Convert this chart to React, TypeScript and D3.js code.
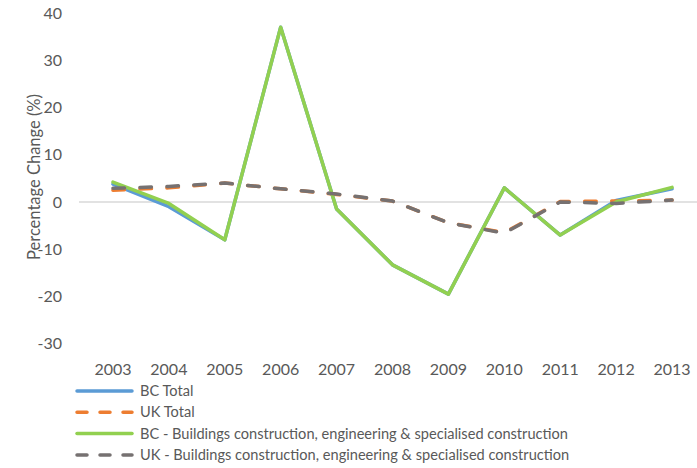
import React from "react";
import * as d3 from "d3";

const years = ["2003", "2004", "2005", "2006", "2007", "2008", "2009", "2010", "2011", "2012", "2013"];
const bcTotal = [3.8, -1.0, -8.0, 37.0, -1.5, -13.3, -19.5, 3.0, -7.0, 0.3, 2.8];
const ukTotal = [2.5, 3.0, 4.0, 2.8, 1.6, 0.2, -4.4, -6.5, 0.1, 0.2, 0.4];
const bcBuild = [4.2, -0.3, -8.0, 37.0, -1.5, -13.3, -19.5, 3.0, -7.0, 0.0, 3.1];
const ukBuild = [2.9, 3.3, 4.0, 2.8, 1.7, 0.2, -4.4, -6.6, 0.0, -0.3, 0.4];
const yTicks = [40, 30, 20, 10, 0, -10, -20, -30];

const seriesNames = [
  "BC Total",
  "UK Total",
  "BC - Buildings construction, engineering & specialised construction",
  "UK - Buildings construction, engineering & specialised construction",
];
const seriesData = [bcTotal, ukTotal, bcBuild, ukBuild];
const seriesColors = ["#5B9BD5", "#ED7D31", "#92D050", "#767171"];
const seriesDashed = [false, true, false, true];

const W = 697;
const H = 468;
const font = "Lato, sans-serif";
const textColor = "#595959";

export default function App() {
  const x = d3.scalePoint<string>().domain(years).range([85, 700]).padding(0.5);
  const y = d3.scaleLinear().domain([-30, 40]).range([343.75, 13]);

  const line = d3
    .line<number>()
    .x((d, i) => x(years[i]) as number)
    .y((d) => y(d));

  return (
    <svg width={W} height={H} style={{ position: "absolute", left: 0, top: 0, background: "#fff" }}>
      {/* zero line */}
      <line x1={79} x2={697} y1={y(0)} y2={y(0)} stroke="#D9D9D9" strokeWidth={1.5} />

      {/* y ticks */}
      {yTicks.map((t) => (
        <text key={t} x={62} y={y(t)} dy="0.35em" textAnchor="end" fontFamily={font} fontSize={16} fill={textColor}>
          {t}
        </text>
      ))}

      {/* x ticks */}
      {years.map((yr) => (
        <text key={yr} x={x(yr)} y={375} textAnchor="middle" fontFamily={font} fontSize={16} fill={textColor}>
          {yr}
        </text>
      ))}

      <text
        transform={`translate(40,177) rotate(-90)`}
        textAnchor="middle"
        fontFamily={font}
        fontSize={16.5}
        fill={textColor}
      >
        Percentage Change (%)
      </text>

      {/* series */}
      {seriesData.map((d, i) => (
        <path
          key={seriesNames[i]}
          d={line(d) || ""}
          fill="none"
          stroke={seriesColors[i]}
          strokeWidth={3.5}
          strokeLinejoin="round"
          strokeLinecap="round"
          strokeDasharray={seriesDashed[i] ? "11.5,15.5" : undefined}
        />
      ))}

      {/* legend */}
      {seriesNames.map((n, i) => {
        const ly = 391 + i * 21.3;
        return (
          <g key={n}>
            <line
              x1={77}
              x2={132}
              y1={ly}
              y2={ly}
              stroke={seriesColors[i]}
              strokeWidth={3.5}
              strokeLinecap="round"
              strokeDasharray={seriesDashed[i] ? "10,13" : undefined}
            />
            <text x={140} y={ly} dy="0.35em" fontFamily={font} fontSize={14.6} fill={textColor}>
              {n}
            </text>
          </g>
        );
      })}
    </svg>
  );
}
